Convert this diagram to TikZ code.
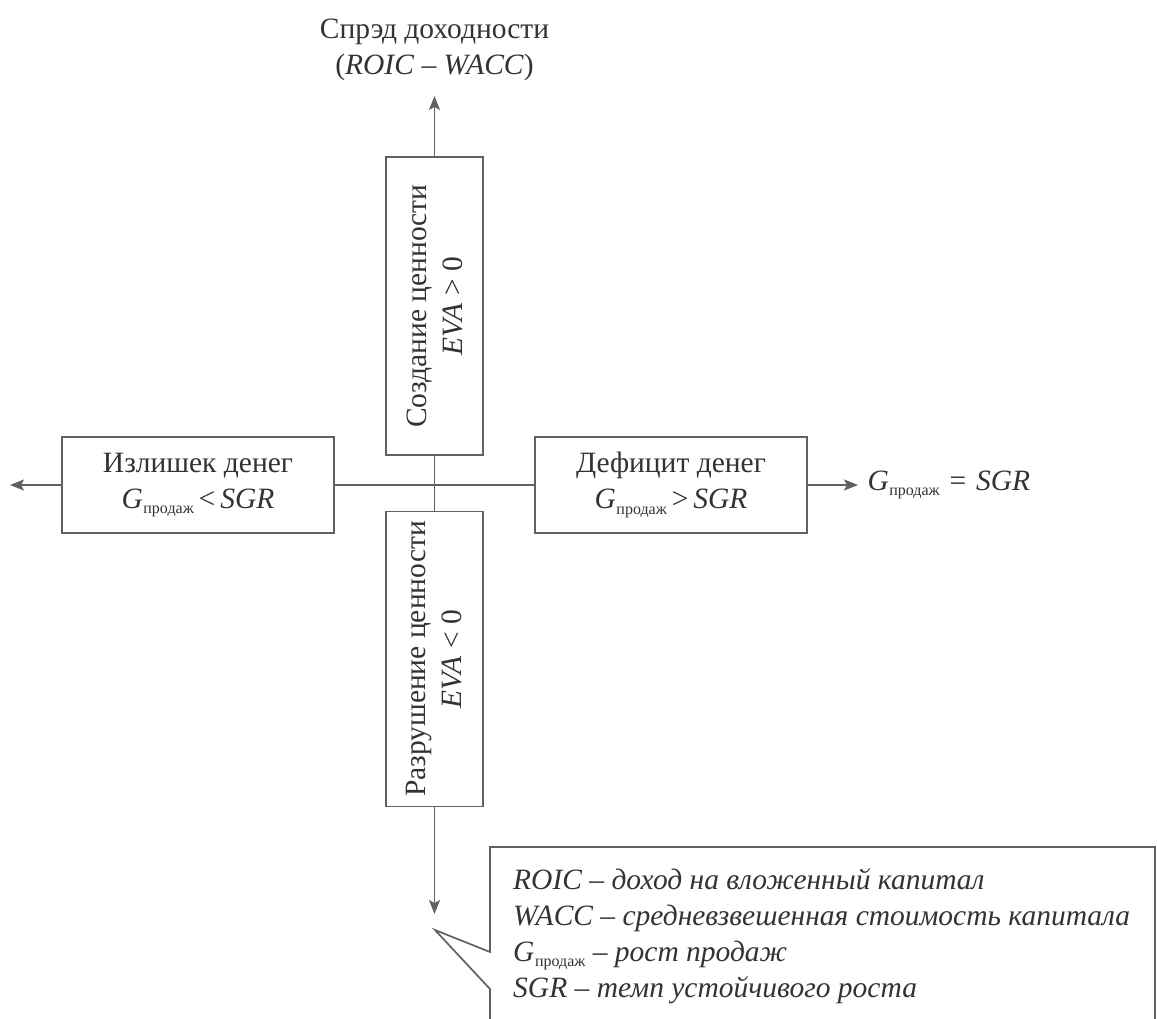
\documentclass[tikz,border=0pt]{standalone}
\usepackage{fontspec}
\setmainfont{Liberation Serif}
\usetikzlibrary{arrows.meta}
\definecolor{txt}{gray}{0.2}
\definecolor{ln}{gray}{0.38}
\newcommand{\Gp}{\textit{G}\kern0.5pt\raisebox{-0.4ex}{\fontsize{16}{16}\selectfont\upshape продаж}}
\begin{document}
\begin{tikzpicture}[x=1pt,y=-1pt,
  every node/.style={font=\fontsize{29.5}{36}\selectfont, text=txt},
  box/.style={draw=ln, line width=1.7pt, align=center, inner sep=0pt},
  axis/.style={draw=ln, line width=1.6pt},
  arr/.style={axis, -{Stealth[length=14pt,width=11pt,inset=3pt]}}]
\clip (0,0) rectangle (1158,1018);
\fill[white] (0,0) rectangle (1158,1018);
% boxes
\node[box, minimum width=272pt, minimum height=96pt] (left) at (198,485)
  {Излишек денег\\ \Gp\,<\,\textit{SGR}};
\node[box, minimum width=272pt, minimum height=96pt] (right) at (671,485)
  {Дефицит денег\\ \Gp\,>\,\textit{SGR}};
\node[box, rotate=90, minimum width=298pt, minimum height=97pt] (top) at (434.5,306)
  {Создание ценности\\ \textit{EVA} > 0};
\node[box, rotate=90, minimum width=295pt, minimum height=97pt] (bot) at (434.5,659)
  {Разрушение ценности\\ \textit{EVA} < 0};
% labels
\node[align=center] (ylab) at (434.5,50) {Спрэд доходности\\(\textit{ROIC} – \textit{WACC})};
\node[anchor=west] (glab) at (864,485) {\Gp\,\,=\,\,\textit{SGR}};
% axis ends
\coordinate (ytop) at (434.5,96);
\coordinate (ybot) at (434.5,914);
\coordinate (xl) at (10,485);
\coordinate (xr) at (858,485);
% connectors
\draw[arr] (top.east) -- (ytop);
\draw[axis] (top.west) -- (bot.east);
\draw[arr] (bot.west) -- (ybot);
\draw[arr] (left.west) -- (xl);
\draw[axis] (left.east) -- (right.west);
\draw[arr] (right.east) -- (xr);
% legend callout
\coordinate (ptip) at (435,930);
\draw[ln, line width=1.7pt, line join=miter] (490,952) -- (ptip) -- (490,989) -- (490,1040)
  -- (1155,1040) -- (1155,847) -- (490,847) -- cycle;
\node[anchor=north west, inner sep=0pt, align=left, font=\fontsize{29.5}{36}\selectfont\itshape] (legend) at (513,868)
  {ROIC – доход на вложенный капитал\\
   WACC – средневзвешенная стоимость капитала\\
   \Gp{} – рост продаж\\
   SGR – темп устойчивого роста};
\end{tikzpicture}
\end{document}
